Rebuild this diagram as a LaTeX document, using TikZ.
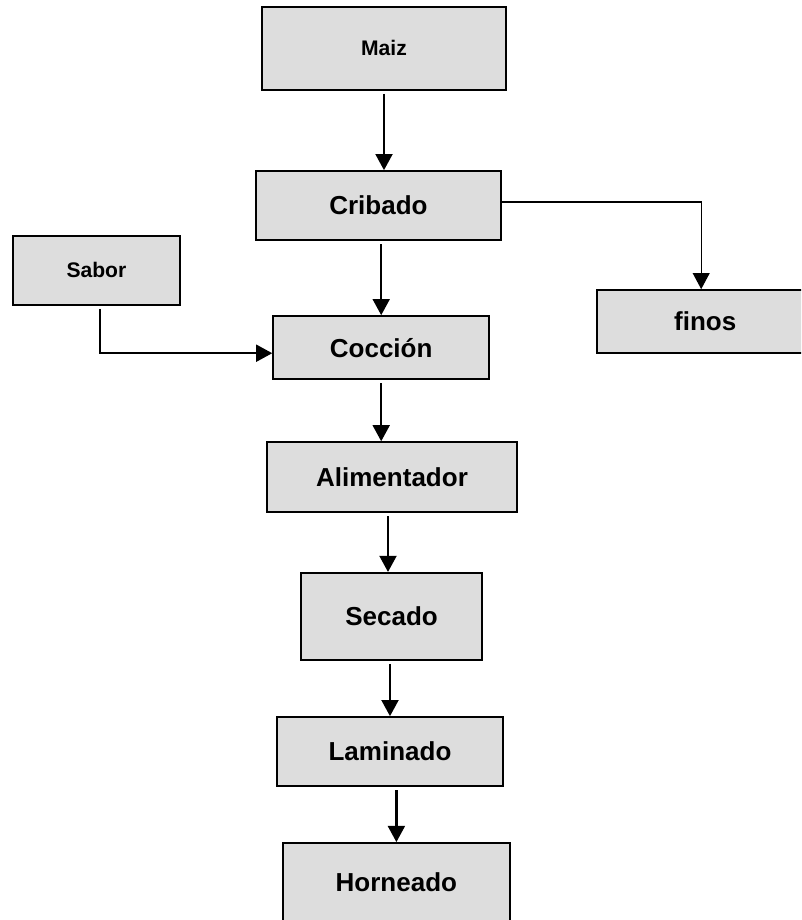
\documentclass[tikz,border=0pt]{standalone}
\usepackage{fontspec}
\setmainfont{Liberation Sans}
\usetikzlibrary{arrows.meta}
\definecolor{boxgray}{RGB}{221,221,221}

\begin{document}
\begin{tikzpicture}[
    proc/.style={draw, line width=1.3pt, fill=boxgray, align=center, inner sep=0pt,
                 font=\bfseries\fontsize{18.5}{22}\selectfont},
    inp/.style={proc, font=\bfseries\fontsize{15}{18}\selectfont},
    arr/.style={-{Triangle[width=12pt,length=11.5pt]}, line width=1.7pt, shorten <=0.075cm},
    arrthin/.style={-{Triangle[width=12pt,length=11.5pt]}, line width=1pt}
]
\clip (0,0) rectangle (20.025,-23);
% --- main line ---
\node[inp, minimum width=6.1cm, minimum height=2.075cm] (maiz) at (9.60, -1.21) {Maiz};
\node[proc, minimum width=6.125cm, minimum height=1.725cm] (cribado) at (9.46, -5.14) {Cribado};
\node[proc, minimum width=5.4cm, minimum height=1.575cm] (coccion) at (9.53, -8.69) {Cocción};
\node[proc, minimum width=6.25cm, minimum height=1.75cm] (alim) at (9.80, -11.93) {Alimentador};
\node[proc, minimum width=4.525cm, minimum height=2.175cm] (secado) at (9.79, -15.41) {Secado};
\node[proc, minimum width=5.65cm, minimum height=1.725cm] (laminado) at (9.75, -18.79) {Laminado};
\node[proc, minimum width=5.675cm, minimum height=1.95cm] (horneado) at (9.91, -22.05) {Horneado};

% --- side boxes ---
\node[inp, minimum width=4.175cm, minimum height=1.725cm] (sabor) at (2.41, -6.76) {Sabor};
\node[proc, minimum width=5.4cm, minimum height=1.575cm] (finos) at (17.63, -8.04) {finos};

% --- arrows ---
\draw[arr] (maiz.south) -- (maiz.south |- cribado.north);
\draw[arr] (coccion.north |- cribado.south) -- (coccion.north);
\draw[arrthin] ([yshift=0.09cm]cribado.east) -| ([xshift=-0.1cm]finos.north);
\draw[arr] ([xshift=0.09cm]sabor.south) |- ([yshift=-0.14cm]coccion.west);
\draw[arr] (coccion.south) -- (coccion.south |- alim.north);
\draw[arr] ([xshift=-0.1cm]alim.south) -- ([xshift=-0.1cm]alim.south |- secado.north);
\draw[arr] (laminado.north |- secado.south) -- (laminado.north);
\draw[arr] (horneado.north |- laminado.south) -- (horneado.north);
\end{tikzpicture}
\end{document}
